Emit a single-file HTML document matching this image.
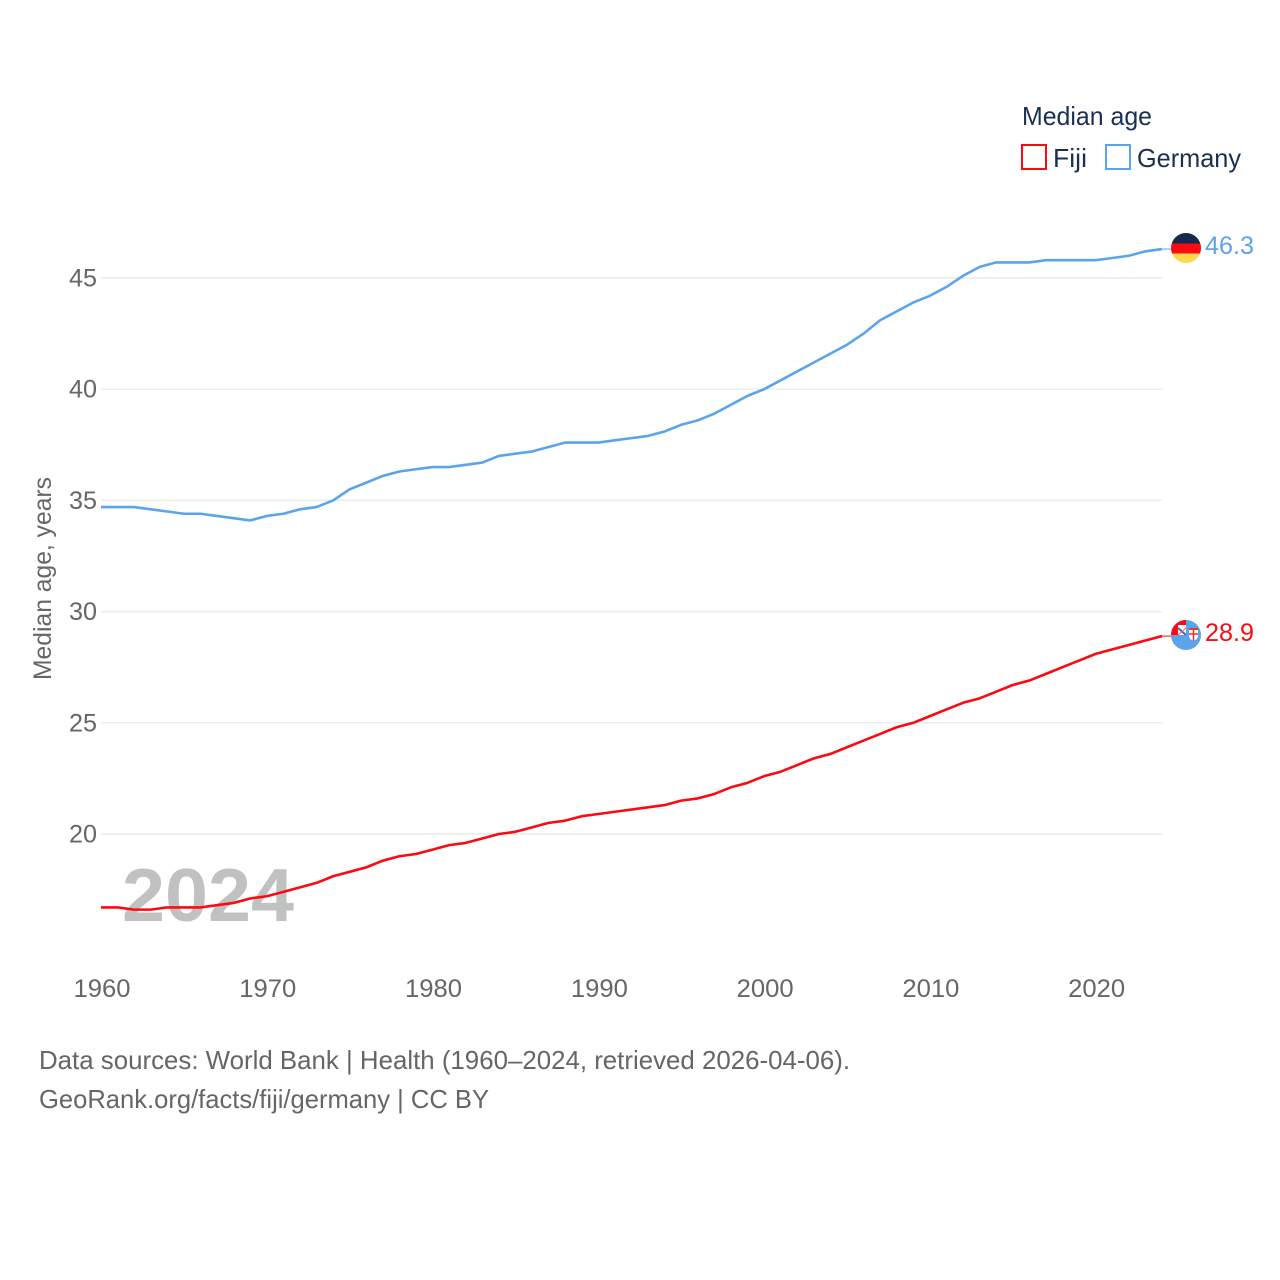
<!DOCTYPE html>
<html lang="en">
<head>
<meta charset="utf-8">
<title>Median age: Fiji and Germany</title>
<style>
html,body{margin:0;padding:0;background:#fff;width:1280px;height:1280px;overflow:hidden}
svg{display:block}
text{font-family:"Liberation Sans",sans-serif}
</style>
</head>
<body>
<svg id="chart" xmlns="http://www.w3.org/2000/svg" width="1280" height="1280" viewBox="0 0 1280 1280">
  <rect x="0" y="0" width="1280" height="1280" fill="#ffffff"/>
  <g id="grid"></g>
  <text x="122" y="921" font-size="75" font-weight="700" fill="#c0c2c2" textLength="172" lengthAdjust="spacingAndGlyphs">2024</text>
  <g id="yticks"></g>
  <g id="xticks"></g>
  <text transform="translate(51 680) rotate(-90)" font-size="25" fill="#666666" textLength="203" lengthAdjust="spacingAndGlyphs">Median age, years</text>
  <g id="series"></g>

  <g>
    <clipPath id="de-clip"><circle cx="1186" cy="248" r="15"/></clipPath>
    <g clip-path="url(#de-clip)">
      <rect x="1171" y="233" width="30" height="10.5" fill="#15294b"/>
      <rect x="1171" y="243.5" width="30" height="10" fill="#fb0a11"/>
      <rect x="1171" y="253.5" width="30" height="10" fill="#ffd94a"/>
    </g>
  </g>
  <g>
    <clipPath id="fj-clip"><circle cx="1186" cy="635" r="15"/></clipPath>
    <g clip-path="url(#fj-clip)">
      <rect x="1171" y="620" width="30" height="30" fill="#5ba4ec"/>
      <rect x="1171" y="620" width="15" height="15" fill="#fb0a11"/>
      <rect x="1178" y="625" width="8" height="10" fill="#ffffff"/>
      <path d="M1178 628 L1186 635" stroke="#3d6fb0" stroke-width="2"/>
      <path d="M1178 635 L1186 628" stroke="#e8607a" stroke-width="1"/>
      <path d="M1189 628 H1198 V636 Q1198 639 1193.500 641 Q1189 639 1189 636 Z" fill="#ffffff"/>
      <path d="M1193.500 628 V641 M1189 634 H1198" stroke="#f02a2a" stroke-width="1.500"/>
      <rect x="1189" y="628" width="9" height="2" fill="#e33"/>
    </g>
  </g>
  <text x="1205" y="254" font-size="25" fill="#5ba4ec" textLength="49" lengthAdjust="spacingAndGlyphs">46.3</text>
  <text x="1205" y="641" font-size="25" fill="#fb0a11" textLength="49" lengthAdjust="spacingAndGlyphs">28.9</text>

  <g>
    <text x="1022" y="125" font-size="26" fill="#1b2f52" textLength="130" lengthAdjust="spacingAndGlyphs">Median age</text>
    <g>
      <rect x="1022" y="145" width="24" height="24" fill="#ffffff" stroke="#fb0a11" stroke-width="2"/>
      <text x="1053" y="167" font-size="26" fill="#1b2f52" textLength="34" lengthAdjust="spacingAndGlyphs">Fiji</text>
    </g>
    <g>
      <rect x="1106" y="145" width="24" height="24" fill="#ffffff" stroke="#5ba4ec" stroke-width="2"/>
      <text x="1137" y="167" font-size="26" fill="#1b2f52" textLength="104" lengthAdjust="spacingAndGlyphs">Germany</text>
    </g>
  </g>

  <text x="39" y="1069" font-size="26" fill="#666666" textLength="811" lengthAdjust="spacingAndGlyphs">Data sources: World Bank | Health (1960–2024, retrieved 2026-04-06).</text>
  <text x="39" y="1108" font-size="26" fill="#666666" textLength="450" lengthAdjust="spacingAndGlyphs">GeoRank.org/facts/fiji/germany | CC BY</text>
</svg>
<script>
const years = [1960,1961,1962,1963,1964,1965,1966,1967,1968,1969,1970,1971,1972,1973,1974,1975,1976,1977,1978,1979,1980,1981,1982,1983,1984,1985,1986,1987,1988,1989,1990,1991,1992,1993,1994,1995,1996,1997,1998,1999,2000,2001,2002,2003,2004,2005,2006,2007,2008,2009,2010,2011,2012,2013,2014,2015,2016,2017,2018,2019,2020,2021,2022,2023,2024];
const germanyValues = [34.7,34.7,34.7,34.6,34.5,34.4,34.4,34.3,34.2,34.1,34.3,34.4,34.6,34.7,35.0,35.5,35.8,36.1,36.3,36.4,36.5,36.5,36.6,36.7,37.0,37.1,37.2,37.4,37.6,37.6,37.6,37.7,37.8,37.9,38.1,38.4,38.6,38.9,39.3,39.7,40.0,40.4,40.8,41.2,41.6,42.0,42.5,43.1,43.5,43.9,44.2,44.6,45.1,45.5,45.7,45.7,45.7,45.8,45.8,45.8,45.8,45.9,46.0,46.2,46.3];
const fijiValues = [16.7,16.7,16.6,16.6,16.7,16.7,16.7,16.8,16.9,17.1,17.2,17.4,17.6,17.8,18.1,18.3,18.5,18.8,19.0,19.1,19.3,19.5,19.6,19.8,20.0,20.1,20.3,20.5,20.6,20.8,20.9,21.0,21.1,21.2,21.3,21.5,21.6,21.8,22.1,22.3,22.6,22.8,23.1,23.4,23.6,23.9,24.2,24.5,24.8,25.0,25.3,25.6,25.9,26.1,26.4,26.7,26.9,27.2,27.5,27.8,28.1,28.3,28.5,28.7,28.9];
const yTickLabels = [20,25,30,35,40,45];
const xTickLabels = [1960,1970,1980,1990,2000,2010,2020];

const NS = 'http://www.w3.org/2000/svg';
function xScale(year){ return 101 + (year - 1960) * 16.578; }
function yScale(value){ return 834 - (value - 20) * 22.24; }

const grid = document.getElementById('grid');
const yticks = document.getElementById('yticks');
const xticks = document.getElementById('xticks');
const series = document.getElementById('series');

yTickLabels.forEach(function(tick){
  const line = document.createElementNS(NS, 'line');
  
  
  line.setAttribute('x1', 101);
  line.setAttribute('x2', xScale(2024));
  line.setAttribute('y1', yScale(tick));
  line.setAttribute('y2', yScale(tick));
  line.setAttribute('stroke', '#e8e8e8');
  line.setAttribute('stroke-width', '1.2');
  grid.appendChild(line);

  const label = document.createElementNS(NS, 'text');
  
  
  label.setAttribute('x', 69);
  label.setAttribute('y', yScale(tick) + 8.5);
  label.setAttribute('font-size', '25');
  label.setAttribute('fill', '#666666');
  label.setAttribute('textLength', '28');
  label.setAttribute('lengthAdjust', 'spacingAndGlyphs');
  label.textContent = tick;
  yticks.appendChild(label);
});

xTickLabels.forEach(function(tick){
  const label = document.createElementNS(NS, 'text');
  
  
  label.setAttribute('x', xScale(tick) - 27.5);
  label.setAttribute('y', 997);
  label.setAttribute('font-size', '25');
  label.setAttribute('fill', '#666666');
  label.setAttribute('textLength', '57');
  label.setAttribute('lengthAdjust', 'spacingAndGlyphs');
  label.textContent = tick;
  xticks.appendChild(label);
});

function pathFrom(values){
  return values.map(function(v, i){
    return (i ? 'L' : 'M') + xScale(years[i]).toFixed(2) + ' ' + yScale(v).toFixed(2);
  }).join(' ');
}

const germanyLine = document.createElementNS(NS, 'path');


germanyLine.setAttribute('d', pathFrom(germanyValues));
germanyLine.setAttribute('fill', 'none');
germanyLine.setAttribute('stroke', '#5ba4ec');
germanyLine.setAttribute('stroke-width', '2.6');
germanyLine.setAttribute('stroke-linejoin', 'round');
series.appendChild(germanyLine);

const fijiLine = document.createElementNS(NS, 'path');


fijiLine.setAttribute('d', pathFrom(fijiValues));
fijiLine.setAttribute('fill', 'none');
fijiLine.setAttribute('stroke', '#fb0a11');
fijiLine.setAttribute('stroke-width', '2.6');
fijiLine.setAttribute('stroke-linejoin', 'round');
series.appendChild(fijiLine);

const germanyConnector = document.createElementNS(NS, 'line');


germanyConnector.setAttribute('x1', xScale(2024));
germanyConnector.setAttribute('x2', 1172);
germanyConnector.setAttribute('y1', yScale(germanyValues[germanyValues.length - 1]));
germanyConnector.setAttribute('y2', yScale(germanyValues[germanyValues.length - 1]));
germanyConnector.setAttribute('stroke', '#5ba4ec');
germanyConnector.setAttribute('stroke-width', '1');
series.appendChild(germanyConnector);

const fijiConnector = document.createElementNS(NS, 'line');


fijiConnector.setAttribute('x1', xScale(2024));
fijiConnector.setAttribute('x2', 1172);
fijiConnector.setAttribute('y1', yScale(fijiValues[fijiValues.length - 1]));
fijiConnector.setAttribute('y2', yScale(fijiValues[fijiValues.length - 1]));
fijiConnector.setAttribute('stroke', '#fb0a11');
fijiConnector.setAttribute('stroke-width', '1');
series.appendChild(fijiConnector);
</script>
</body>
</html>
